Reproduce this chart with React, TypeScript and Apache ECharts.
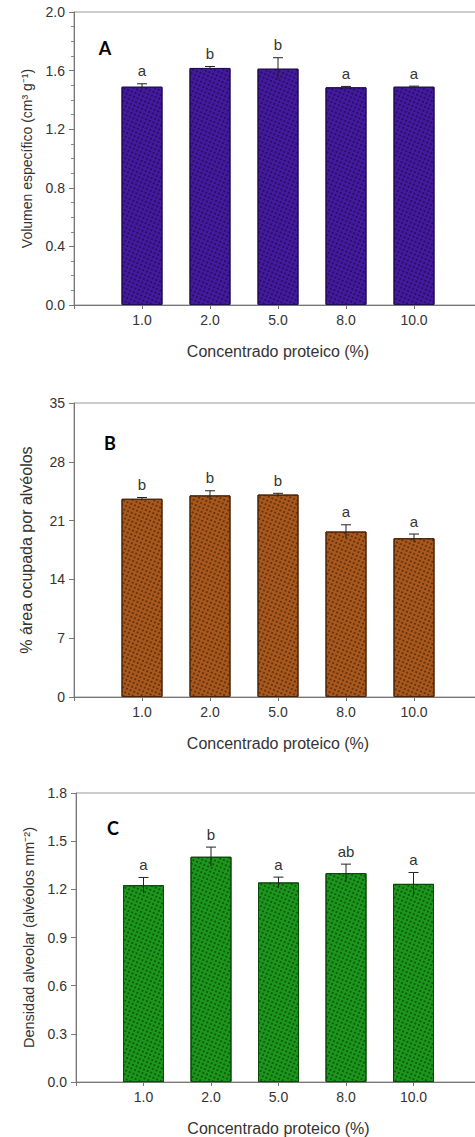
import React, { useEffect, useRef } from "react";
import * as echarts from "echarts";

const categories = ["1.0", "2.0", "5.0", "8.0", "10.0"];

const volumenMean = [1.49, 1.618, 1.613, 1.486, 1.49];
const volumenErr = [0.02, 0.01, 0.075, 0.006, 0.004];
const volumenLetters = ["a", "b", "b", "a", "a"];

const areaMean = [23.6, 24.0, 24.1, 19.7, 18.9];
const areaErr = [0.15, 0.55, 0.15, 0.8, 0.5];
const areaLetters = ["b", "b", "b", "a", "a"];

const densMean = [1.226, 1.403, 1.243, 1.301, 1.234];
const densErr = [0.048, 0.06, 0.033, 0.056, 0.071];
const densLetters = ["a", "b", "a", "ab", "a"];

const FONT = "'Liberation Sans', Arial, sans-serif";
const TXT = "#333";

const panels = [
  {
    key: "A",
    mean: volumenMean,
    err: volumenErr,
    letters: volumenLetters,
    yName: "Volumen específico (cm³ g⁻¹)",
    yNameSize: 14,
    yMin: 0, yMax: 2.0, yInt: 0.4, dec: 1, minor: true,
    color: "#431aa0", border: "#220e55",
    grid: { left: 74, top: 12, width: 408, height: 293 },
    letterPos: [105, 48],
  },
  {
    key: "B",
    mean: areaMean,
    err: areaErr,
    letters: areaLetters,
    yName: "% área ocupada por alvéolos",
    yNameSize: 16,
    yMin: 0, yMax: 35, yInt: 7, dec: 0, minor: false,
    color: "#aa581c", border: "#4a2408",
    grid: { left: 74, top: 403, width: 408, height: 294 },
    letterPos: [110, 443],
  },
  {
    key: "C",
    mean: densMean,
    err: densErr,
    letters: densLetters,
    yName: "Densidad alveolar (alvéolos mm⁻²)",
    yNameSize: 14.5,
    yMin: 0, yMax: 1.8, yInt: 0.3, dec: 1, minor: false,
    color: "#1b981b", border: "#0a4a0a",
    grid: { left: 76, top: 793, width: 405, height: 289 },
    letterPos: [113, 828],
  },
];

export default function App() {
  const ref = useRef<HTMLDivElement>(null);
  useEffect(() => {
    document.body.style.margin = "0";
    const chart = echarts.init(ref.current!, null, { renderer: "svg" });
    const grid: any[] = [];
    const xAxis: any[] = [];
    const yAxis: any[] = [];
    const series: any[] = [];
    const graphic: any[] = [];
    panels.forEach((p, i) => {
      grid.push({
        ...p.grid,
        show: true,
        borderColor: "#9a9a9a",
        borderWidth: 1,
        backgroundColor: "transparent",
        containLabel: false,
        outerBoundsMode: "none",
      });
      xAxis.push({
        type: "value",
        gridIndex: i,
        min: 0,
        max: 6,
        interval: 1,
        name: "Concentrado proteico (%)",
        nameLocation: "middle",
        nameGap: 38,
        nameTextStyle: { fontFamily: FONT, fontSize: 16, color: TXT },
        axisLine: { show: true, lineStyle: { color: "#777", width: 1 } },
        axisTick: { show: true, length: 4, lineStyle: { color: "#777" } },
        axisLabel: {
          fontFamily: FONT,
          fontSize: 14,
          color: TXT,
          margin: 8,
          formatter: (v: number) => categories[v - 1] ?? "",
        },
        splitLine: { show: false },
      });
      yAxis.push({
        type: "value",
        gridIndex: i,
        min: p.yMin,
        max: p.yMax,
        interval: p.yInt,
        name: p.yName,
        nameLocation: "middle",
        nameGap: 40,
        nameTextStyle: { fontFamily: FONT, fontSize: p.yNameSize, color: TXT },
        axisLine: { show: true, lineStyle: { color: "#777", width: 1 } },
        axisTick: { show: true, length: 5, lineStyle: { color: "#777" } },
        minorTick: { show: p.minor, splitNumber: 4, length: 3, lineStyle: { color: "#888" } },
        axisLabel: {
          fontFamily: FONT,
          fontSize: 14,
          color: TXT,
          margin: 9,
          formatter: (v: number) => v.toFixed(p.dec),
        },
        splitLine: { show: false },
      });
      series.push({
        type: "bar",
        xAxisIndex: i,
        yAxisIndex: i,
        barWidth: 41,
        data: p.mean.map((m, j) => [j + 1, m]),
        itemStyle: {
          color: p.color,
          borderColor: p.border,
          borderWidth: 1,
          decal: {
            symbol: "circle",
            symbolSize: 0.9,
            color: "rgba(0,0,0,0.55)",
            dashArrayX: [2, 1.5],
            dashArrayY: [2, 1.5],
            rotation: 0.4,
          },
        },
        z: 2,
      });
      series.push({
        type: "custom",
        xAxisIndex: i,
        yAxisIndex: i,
        data: p.mean.map((m, j) => [j + 1, m, p.err[j]]),
        z: 5,
        renderItem: (params: any, api: any) => {
          const x = api.value(0);
          const m = api.value(1);
          const e = api.value(2);
          const top = api.coord([x, m + e]);
          const bot = api.coord([x, m - e]);
          const cap = 5;
          return {
            type: "group",
            children: [
              { type: "line", shape: { x1: top[0], y1: top[1], x2: bot[0], y2: bot[1] }, style: { stroke: "#222", lineWidth: 1 } },
              { type: "line", shape: { x1: top[0] - cap, y1: top[1], x2: top[0] + cap, y2: top[1] }, style: { stroke: "#222", lineWidth: 1 } },
              {
                type: "text",
                x: top[0],
                y: top[1] - 13,
                style: {
                  text: p.letters[params.dataIndex],
                  fontFamily: FONT,
                  fontSize: 15,
                  fill: TXT,
                  align: "center",
                  verticalAlign: "middle",
                },
              },
            ],
          };
        },
      });
      graphic.push({
        type: "text",
        x: p.letterPos[0],
        y: p.letterPos[1],
        style: {
          text: p.key,
          fontFamily: "Lato, 'Open Sans', sans-serif",
          fontWeight: "bold",
          fontSize: 18,
          fill: "#000",
          align: "center",
          verticalAlign: "middle",
        },
      });
    });
    chart.setOption({ animation: false, grid, xAxis, yAxis, series, graphic });
    return () => chart.dispose();
  }, []);
  return <div ref={ref} style={{ width: 475, height: 1137 }} />;
}
